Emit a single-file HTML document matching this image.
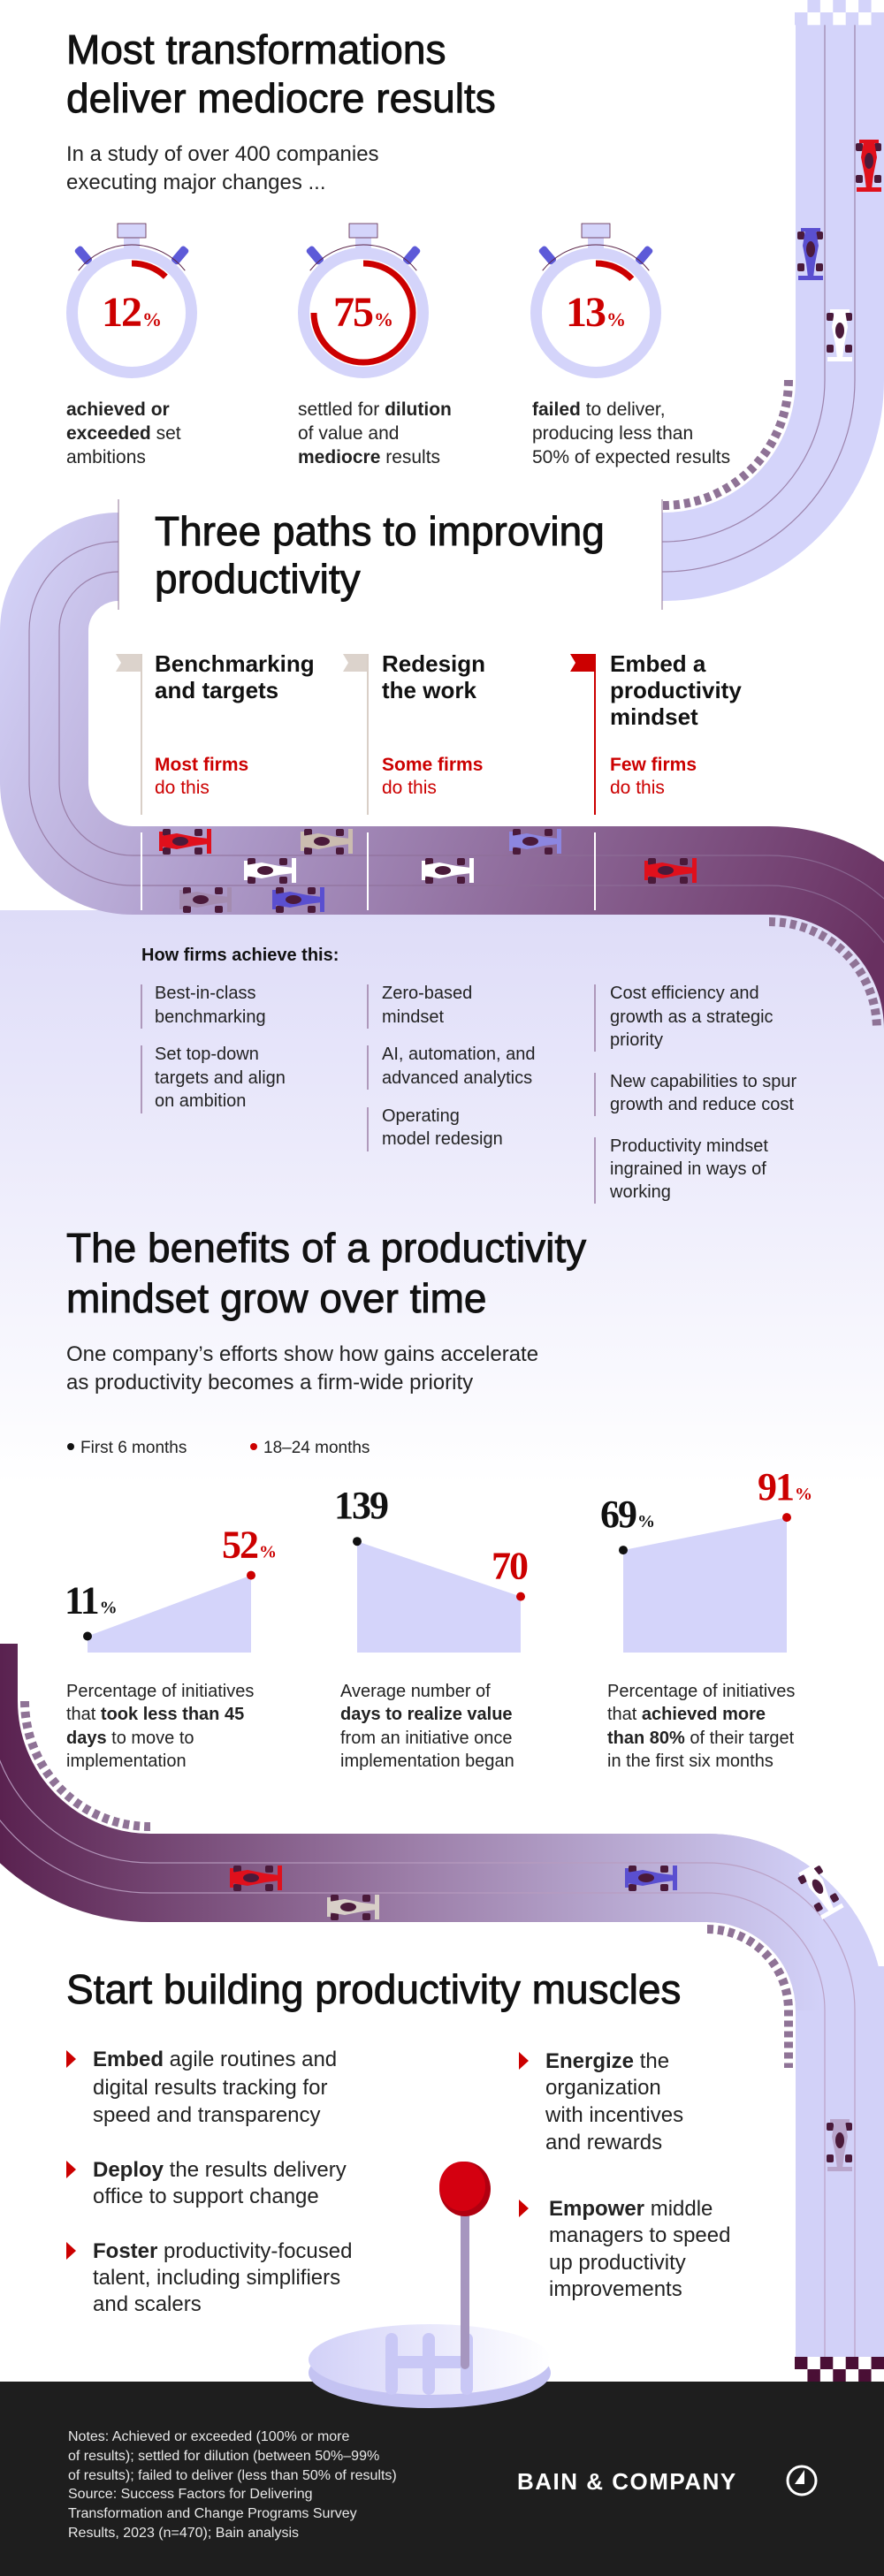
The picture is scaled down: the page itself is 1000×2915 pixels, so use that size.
<!DOCTYPE html>
<html><head><meta charset="utf-8"><title>Productivity transformations</title>
<style>
html,body{margin:0;padding:0;background:#fff;}
svg{display:block;font-family:"Liberation Sans",sans-serif;}
.t{fill:#111;}
.h1{font-size:46px;fill:#111;stroke:#111;stroke-width:0.9px;}
.sub{font-size:24px;fill:#222;}
.lbl{font-size:21px;fill:#222;}
.b{font-weight:700;}
.ser{font-family:"Liberation Serif",serif;font-weight:700;}
</style></head>
<body>
<svg id="page" xmlns="http://www.w3.org/2000/svg" width="1000" height="2915" viewBox="0 0 1000 2915">
<defs>
  <linearGradient id="bgLav" x1="0" y1="0" x2="0" y2="1">
    <stop offset="0" stop-color="#dedcf8"/><stop offset="1" stop-color="#ffffff"/>
  </linearGradient>
  <linearGradient id="trk1" gradientUnits="userSpaceOnUse" x1="0" y1="640" x2="1000" y2="1060">
    <stop offset="0" stop-color="#d4d3f8"/><stop offset="0.35" stop-color="#ab97c6"/><stop offset="1" stop-color="#683060"/>
  </linearGradient>
  <linearGradient id="trk2" gradientUnits="userSpaceOnUse" x1="0" y1="0" x2="930" y2="0">
    <stop offset="0" stop-color="#5a2250"/><stop offset="0.5" stop-color="#9c7ea8"/><stop offset="1" stop-color="#d2d1f8"/>
  </linearGradient>
  <linearGradient id="baseG" x1="0" y1="0" x2="1" y2="0">
    <stop offset="0" stop-color="#d2d1f8"/><stop offset="1" stop-color="#ffffff"/>
  </linearGradient>
</defs>

<rect width="1000" height="2915" fill="#fff"/>
<rect x="0" y="1030" width="1000" height="650" fill="url(#bgLav)"/>

<!-- Track 1 -->
<g id="track1">
  <path d="M950 -20 L950 430 A200 200 0 0 1 750 630 L134 630" fill="none" stroke="#d4d4fa" stroke-width="100"/>
  <path d="M200 630 L134 630 A84 84 0 0 0 50 714 L50 885 A100 100 0 0 0 150 985 L870 985 A180 180 0 0 1 1050 1165 L1050 1300" fill="none" stroke="url(#trk1)" stroke-width="100"/>
  <path id="lane1a" fill="none" stroke="#8f6f98" stroke-width="1.2" opacity="0.8"/>
  <path id="lane1b" fill="none" stroke="#8f6f98" stroke-width="1.2" opacity="0.8"/>
  <path d="M750 572 A142 142 0 0 0 892 430" fill="none" stroke="#8f7396" stroke-width="10" stroke-dasharray="7 5"/>
  <path d="M870 1043 A122 122 0 0 1 992 1165" fill="none" stroke="#8f7396" stroke-width="10" stroke-dasharray="7 5"/>
</g>
<g id="checkTop"></g>

<!-- Track 2 -->
<g id="track2">
  <path d="M-30 1860 L-30 1925 A200 200 0 0 0 170 2125 L800 2125 A150 150 0 0 1 950 2275 L950 2700" fill="none" stroke="url(#trk2)" stroke-width="100"/>
  <path d="M900 2275 L950 2275 L950 2700" fill="none" stroke="#d2d1f8" stroke-width="100"/>
  <path d="M800 2125 A150 150 0 0 1 950 2275" fill="none" stroke="url(#trk2)" stroke-width="100"/>
  <path id="lane2a" fill="none" stroke="#b89cc0" stroke-width="1.2" opacity="0.9"/>
  <path id="lane2b" fill="none" stroke="#b89cc0" stroke-width="1.2" opacity="0.9"/>
  <path d="M28 1925 A142 142 0 0 0 170 2067" fill="none" stroke="#8f7396" stroke-width="10" stroke-dasharray="7 5"/>
  <path d="M800 2183 A92 92 0 0 1 892 2275 L892 2340" fill="none" stroke="#8f7396" stroke-width="10" stroke-dasharray="7 5"/>
</g>

<!-- white panel over top track -->
<rect x="134" y="560" width="615" height="132" fill="#fff"/>
<line x1="134" y1="565" x2="134" y2="690" stroke="#8f7396" stroke-width="1"/>
<line x1="749" y1="565" x2="749" y2="690" stroke="#8f7396" stroke-width="1"/>

<!-- Section 1 -->
<text class="h1"><tspan x="75" y="72">Most transformations</tspan><tspan x="75" y="127">deliver mediocre results</tspan></text>
<text class="sub"><tspan x="75" y="182">In a study of over 400 companies</tspan><tspan x="75" y="214">executing major changes ...</tspan></text>
<g id="watches"></g>
<text class="lbl"><tspan x="75" y="470" class="b">achieved or</tspan><tspan x="75" y="497" class="b">exceeded</tspan><tspan> set</tspan><tspan x="75" y="524">ambitions</tspan></text>
<text class="lbl"><tspan x="337" y="470">settled for </tspan><tspan class="b">dilution</tspan><tspan x="337" y="497">of value and</tspan><tspan x="337" y="524" class="b">mediocre</tspan><tspan> results</tspan></text>
<text class="lbl"><tspan x="602" y="470" class="b">failed</tspan><tspan> to deliver,</tspan><tspan x="602" y="497">producing less than</tspan><tspan x="602" y="524">50% of expected results</tspan></text>

<!-- Section 2 -->
<text class="h1"><tspan x="175" y="617">Three paths to improving</tspan><tspan x="175" y="671">productivity</tspan></text>
<g>
  <polygon points="131,740 160,740 160,760 131,760 137,750" fill="#dcd3cc"/>
  <line x1="160" y1="740" x2="160" y2="922" stroke="#d9cfc7" stroke-width="2"/>
  <text font-size="26" class="b t"><tspan x="175" y="760">Benchmarking</tspan><tspan x="175" y="790">and targets</tspan></text>
  <text font-size="21" fill="#cc0000"><tspan x="175" y="872" class="b">Most firms</tspan><tspan x="175" y="898">do this</tspan></text>
</g>
<g>
  <polygon points="388,740 416,740 416,760 388,760 394,750" fill="#dcd3cc"/>
  <line x1="416" y1="740" x2="416" y2="922" stroke="#d9cfc7" stroke-width="2"/>
  <text font-size="26" class="b t"><tspan x="432" y="760">Redesign</tspan><tspan x="432" y="790">the work</tspan></text>
  <text font-size="21" fill="#cc0000"><tspan x="432" y="872" class="b">Some firms</tspan><tspan x="432" y="898">do this</tspan></text>
</g>
<g>
  <polygon points="645,740 673,740 673,760 645,760 651,750" fill="#cc0000"/>
  <line x1="673" y1="740" x2="673" y2="922" stroke="#cc0000" stroke-width="2"/>
  <text font-size="26" class="b t"><tspan x="690" y="760">Embed a</tspan><tspan x="690" y="790">productivity</tspan><tspan x="690" y="820">mindset</tspan></text>
  <text font-size="21" fill="#cc0000"><tspan x="690" y="872" class="b">Few firms</tspan><tspan x="690" y="898">do this</tspan></text>
</g>
<g stroke="#fff" stroke-width="2">
  <line x1="160" y1="942" x2="160" y2="1030"/><line x1="416" y1="942" x2="416" y2="1030"/><line x1="673" y1="942" x2="673" y2="1030"/>
</g>
<g id="cars"></g>

<text font-size="20" class="b t" x="160" y="1087">How firms achieve this:</text>
<g font-size="20" fill="#222">
  <line x1="160" y1="1114" x2="160" y2="1164" stroke="#9c7fa6" stroke-width="1.5"/>
  <text><tspan x="175" y="1130">Best-in-class</tspan><tspan x="175" y="1157">benchmarking</tspan></text>
  <line x1="160" y1="1183" x2="160" y2="1260" stroke="#9c7fa6" stroke-width="1.5"/>
  <text><tspan x="175" y="1199">Set top-down</tspan><tspan x="175" y="1226">targets and align</tspan><tspan x="175" y="1252">on ambition</tspan></text>
  <line x1="416" y1="1114" x2="416" y2="1164" stroke="#9c7fa6" stroke-width="1.5"/>
  <text><tspan x="432" y="1130">Zero-based</tspan><tspan x="432" y="1157">mindset</tspan></text>
  <line x1="416" y1="1183" x2="416" y2="1233" stroke="#9c7fa6" stroke-width="1.5"/>
  <text><tspan x="432" y="1199">AI, automation, and</tspan><tspan x="432" y="1226">advanced analytics</tspan></text>
  <line x1="416" y1="1253" x2="416" y2="1303" stroke="#9c7fa6" stroke-width="1.5"/>
  <text><tspan x="432" y="1269">Operating</tspan><tspan x="432" y="1295">model redesign</tspan></text>
  <line x1="673" y1="1114" x2="673" y2="1190" stroke="#9c7fa6" stroke-width="1.5"/>
  <text><tspan x="690" y="1130">Cost efficiency and</tspan><tspan x="690" y="1157">growth as a strategic</tspan><tspan x="690" y="1183">priority</tspan></text>
  <line x1="673" y1="1214" x2="673" y2="1263" stroke="#9c7fa6" stroke-width="1.5"/>
  <text><tspan x="690" y="1230">New capabilities to spur</tspan><tspan x="690" y="1256">growth and reduce cost</tspan></text>
  <line x1="673" y1="1287" x2="673" y2="1362" stroke="#9c7fa6" stroke-width="1.5"/>
  <text><tspan x="690" y="1303">Productivity mindset</tspan><tspan x="690" y="1329">ingrained in ways of</tspan><tspan x="690" y="1355">working</tspan></text>
</g>

<!-- Section 3 -->
<text class="h1"><tspan x="75" y="1428">The benefits of a productivity</tspan><tspan x="75" y="1485">mindset grow over time</tspan></text>
<text class="sub"><tspan x="75" y="1540">One company’s efforts show how gains accelerate</tspan><tspan x="75" y="1572">as productivity becomes a firm-wide priority</tspan></text>
<g font-size="19" fill="#222">
  <circle cx="80" cy="1637" r="4" fill="#111"/>
  <text x="91" y="1644">First 6 months</text>
  <circle cx="287" cy="1637" r="4" fill="#cc0000"/>
  <text x="298" y="1644">18–24 months</text>
</g>
<g id="charts"></g>
<g font-size="20" fill="#222">
  <text><tspan x="75" y="1920">Percentage of initiatives</tspan><tspan x="75" y="1946">that </tspan><tspan class="b">took less than 45</tspan><tspan x="75" y="1973" class="b">days</tspan><tspan> to move to</tspan><tspan x="75" y="1999">implementation</tspan></text>
  <text><tspan x="385" y="1920">Average number of</tspan><tspan x="385" y="1946" class="b">days to realize value</tspan><tspan x="385" y="1973">from an initiative once</tspan><tspan x="385" y="1999">implementation began</tspan></text>
  <text><tspan x="687" y="1920">Percentage of initiatives</tspan><tspan x="687" y="1946">that </tspan><tspan class="b">achieved more</tspan><tspan x="687" y="1973" class="b">than 80%</tspan><tspan> of their target</tspan><tspan x="687" y="1999">in the first six months</tspan></text>
</g>

<!-- Section 4 -->
<text class="h1" x="75" y="2267">Start building productivity muscles</text>
<g font-size="24" fill="#222">
  <polygon points="75,2320 86,2330 75,2340" fill="#cc0000"/>
  <text><tspan x="105" y="2338" class="b">Embed</tspan><tspan> agile routines and</tspan><tspan x="105" y="2370">digital results tracking for</tspan><tspan x="105" y="2401">speed and transparency</tspan></text>
  <polygon points="75,2445 86,2455 75,2465" fill="#cc0000"/>
  <text><tspan x="105" y="2463" class="b">Deploy</tspan><tspan> the results delivery</tspan><tspan x="105" y="2493">office to support change</tspan></text>
  <polygon points="75,2537 86,2547 75,2557" fill="#cc0000"/>
  <text><tspan x="105" y="2555" class="b">Foster</tspan><tspan> productivity-focused</tspan><tspan x="105" y="2585">talent, including simplifiers</tspan><tspan x="105" y="2615">and scalers</tspan></text>
  <polygon points="587,2322 598,2332 587,2342" fill="#cc0000"/>
  <text><tspan x="617" y="2340" class="b">Energize</tspan><tspan> the</tspan><tspan x="617" y="2370">organization</tspan><tspan x="617" y="2401">with incentives</tspan><tspan x="617" y="2432">and rewards</tspan></text>
  <polygon points="587,2489 598,2499 587,2509" fill="#cc0000"/>
  <text><tspan x="621" y="2507" class="b">Empower</tspan><tspan> middle</tspan><tspan x="621" y="2537">managers to speed</tspan><tspan x="621" y="2568">up productivity</tspan><tspan x="621" y="2598">improvements</tspan></text>
</g>
<g id="checkBot"></g>

<!-- Footer -->
<rect x="0" y="2695" width="1000" height="220" fill="#1e1e1e"/>
<g>
  <ellipse cx="486" cy="2685" rx="137" ry="40" fill="#c4c3f2"/>
  <ellipse cx="486" cy="2670" rx="137" ry="40" fill="url(#baseG)"/>
  <g stroke="#c9c8f6" stroke-width="14" stroke-linecap="round" fill="none">
    <line x1="443" y1="2647" x2="443" y2="2703"/><line x1="485" y1="2647" x2="485" y2="2703"/><line x1="528" y1="2647" x2="528" y2="2703"/><line x1="443" y1="2673" x2="528" y2="2673"/>
  </g>
  <line x1="526" y1="2490" x2="526" y2="2676" stroke="#a696bf" stroke-width="10" stroke-linecap="round"/>
  <ellipse cx="526" cy="2477" rx="29" ry="31" fill="#b00010"/>
  <ellipse cx="523" cy="2474" rx="26" ry="28" fill="#d40010"/>
</g>
<text font-size="16" fill="#e8e8e8"><tspan x="77" y="2762">Notes: Achieved or exceeded (100% or more</tspan><tspan x="77" y="2784">of results); settled for dilution (between 50%–99%</tspan><tspan x="77" y="2806">of results); failed to deliver (less than 50% of results)</tspan><tspan x="77" y="2827">Source: Success Factors for Delivering</tspan><tspan x="77" y="2849">Transformation and Change Programs Survey</tspan><tspan x="77" y="2871">Results, 2023 (n=470); Bain analysis</tspan></text>
<text x="585" y="2817" font-size="26" class="b" fill="#fff" letter-spacing="1.5">BAIN &amp; COMPANY</text>
<g>
  <circle cx="907" cy="2807" r="16" fill="none" stroke="#fff" stroke-width="3"/>
  <polygon points="910,2795 910,2811 899,2811" fill="#fff"/>
</g>
</svg>

<script>
// ---- stopwatch data ----
const watchValues = [12, 75, 13];
const watchCenters = [149, 411, 674];
// ---- chart data ----
const chartCategories = ['initiatives-45-days', 'days-to-value', 'initiatives-80-target'];
const firstSixMonths = [11, 139, 69];
const laterMonths = [52, 70, 91];
const valueSuffix = ['%', '', '%'];
const unitMax = [100, 200, 100];

const NS = 'http://www.w3.org/2000/svg';
function mk(tag, attrs, parent) {
  const e = document.createElementNS(NS, tag);
  for (const k in attrs) e.setAttribute(k, attrs[k]);
  if (parent) parent.appendChild(e);
  return e;
}

function lane1(s) {
  return `M${950+s} -20 L${950+s} 430 A${200+s} ${200+s} 0 0 1 750 ${630+s} L134 ${630+s} A${84-s} ${84-s} 0 0 0 ${50+s} 714 L${50+s} 885 A${100-s} ${100-s} 0 0 0 150 ${985-s} L870 ${985-s} A${180+s} ${180+s} 0 0 1 ${1050+s} 1165 L${1050+s} 1300`;
}
function lane2(s) {
  return `M${-30-s} 1850 L${-30-s} 1925 A${200+s} ${200+s} 0 0 0 170 ${2125+s} L800 ${2125+s} A${150-s} ${150-s} 0 0 1 ${950-s} 2275 L${950-s} 2695`;
}
document.getElementById('lane1a').setAttribute('d', lane1(17));
document.getElementById('lane1b').setAttribute('d', lane1(-17));
document.getElementById('lane2a').setAttribute('d', lane2(17));
document.getElementById('lane2b').setAttribute('d', lane2(-17));

function checker(g, y0, rows, c1, c2) {
  const w = 101 / 7;
  for (let r = 0; r < rows; r++) for (let c = 0; c < 7; c++) {
    const sq = mk('rect', {x: 899 + c*w, y: y0 + r*14, width: w + 0.3, height: 14.3, fill: (r + c) % 2 ? c1 : c2}, g);
    
    
  }
}
checker(document.getElementById('checkTop'), 0, 2, '#d4d4fa', '#ffffff');
checker(document.getElementById('checkBot'), 2667, 2, '#ffffff', '#4a0f35');

const wg = document.getElementById('watches');
watchValues.forEach((v, i) => {
  const cx = watchCenters[i], cy = 354;
  const g = mk('g', {}, wg);
  
  
  mk('rect', {x: cx-9, y: 266, width: 18, height: 18, fill: '#d4d4fa'}, g);
  mk('rect', {x: cx-16, y: 253, width: 32, height: 16, fill: '#d4d4fa', stroke: '#5a2448', 'stroke-width': 0.8}, g);
  [-1, 1].forEach(d => {
    const b = mk('rect', {x: cx - 5, y: cy - 96, width: 10, height: 22, rx: 3, fill: '#5d5ad8', transform: `rotate(${d*40} ${cx} ${cy})`}, g);
    
    
  });
  const ra = 77;
  mk('path', {d: `M${cx - ra*Math.sin(0.9)} ${cy - ra*Math.cos(0.9)} A${ra} ${ra} 0 0 1 ${cx + ra*Math.sin(0.9)} ${cy - ra*Math.cos(0.9)}`, fill: 'none', stroke: '#5a2448', 'stroke-width': 1}, g);
  mk('circle', {cx, cy, r: 67.5, fill: '#fff', stroke: '#d4d4fa', 'stroke-width': 13}, g);
  const r = 56, ang = v / 100 * 2 * Math.PI;
  const ex = cx + r*Math.sin(ang), ey = cy - r*Math.cos(ang);
  const arc = mk('path', {d: `M${cx} ${cy - r} A${r} ${r} 0 ${v > 50 ? 1 : 0} 1 ${ex} ${ey}`, fill: 'none', stroke: '#cc0000', 'stroke-width': 7}, g);
  
  
  const t = mk('text', {x: cx, y: 369, 'text-anchor': 'middle', class: 'ser', fill: '#cc0000', 'font-size': 48, 'letter-spacing': -2}, g);
  
  
  t.textContent = v;
  const p = mk('tspan', {'font-size': 22, 'letter-spacing': 0, dx: 2}, t);
  p.textContent = '%';
});

const chartX0 = [99, 404, 705], chartW = 185, chartBottom = 1870;
const pxPerFullScale = [168, 181, 168];
const cg = document.getElementById('charts');
function yPos(i, v) { return chartBottom - v / unitMax[i] * pxPerFullScale[i]; }
chartCategories.forEach((cat, i) => {
  const x1 = chartX0[i], x2 = chartX0[i] + chartW;
  const y1 = yPos(i, firstSixMonths[i]), y2 = yPos(i, laterMonths[i]);
  const g = mk('g', {}, cg);
  
  
  const area = mk('polygon', {points: `${x1},${chartBottom} ${x1},${y1} ${x2},${y2} ${x2},${chartBottom}`, fill: '#d4d4fa'}, g);
  
  
  const d1 = mk('circle', {cx: x1, cy: y1, r: 5, fill: '#111'}, g);
  
  
  const d2 = mk('circle', {cx: x2, cy: y2, r: 5, fill: '#cc0000'}, g);
  
  
  const t1 = mk('text', {x: x1 - 26, y: y1 - 26, class: 'ser', 'font-size': 44, fill: '#111', 'letter-spacing': -2}, g);
  
  
  t1.textContent = firstSixMonths[i];
  if (valueSuffix[i]) { const s = mk('tspan', {'font-size': 20, 'letter-spacing': 0, dx: 2}, t1); s.textContent = valueSuffix[i]; }
  const t2 = mk('text', {x: x2 - 33, y: y2 - 20, class: 'ser', 'font-size': 44, fill: '#cc0000', 'letter-spacing': -2}, g);
  
  
  t2.textContent = laterMonths[i];
  if (valueSuffix[i]) { const s = mk('tspan', {'font-size': 20, 'letter-spacing': 0, dx: 2}, t2); s.textContent = valueSuffix[i]; }
});

const carsG = document.getElementById('cars');
function car(x, y, color, rot) {
  const g = mk('g', {transform: `translate(${x} ${y}) rotate(${rot})`}, carsG);
  
  
  [[-26,-14],[-26,7],[10,-14],[10,7]].forEach(p => mk('rect', {x: p[0], y: p[1], width: 9, height: 8, rx: 2, fill: '#4a1a3a'}, g));
  mk('rect', {x: 24, y: -14, width: 5, height: 28, fill: color}, g);
  mk('rect', {x: -30, y: -11, width: 4, height: 22, fill: color}, g);
  mk('polygon', {points: '-28,-6 -10,-9 10,-5 26,-3 26,3 10,5 -10,9 -28,6', fill: color}, g);
  mk('ellipse', {cx: -6, cy: 0, rx: 9, ry: 5, fill: '#4a1a3a'}, g);
}
car(210, 952, '#e0101c', 0);
car(370, 952, '#cbbcb0', 0);
car(306, 985, '#ffffff', 0);
car(233, 1018, '#a48cb0', 0);
car(338, 1018, '#5a4fd0', 0);
car(606, 952, '#8c86e0', 0);
car(507, 985, '#ffffff', 0);
car(759, 985, '#e0101c', 0);
car(290, 2125, '#e0101c', 0);
car(400, 2158, '#d8cfc8', 0);
car(737, 2125, '#5a4fd0', 0);
car(928, 2140, '#ffffff', 60);
car(950, 2428, '#b9a6cc', 90);
car(983, 188, '#e0101c', 90);
car(917, 288, '#5a4fd0', 90);
car(950, 380, '#ffffff', 90);
</script>
</body></html>
